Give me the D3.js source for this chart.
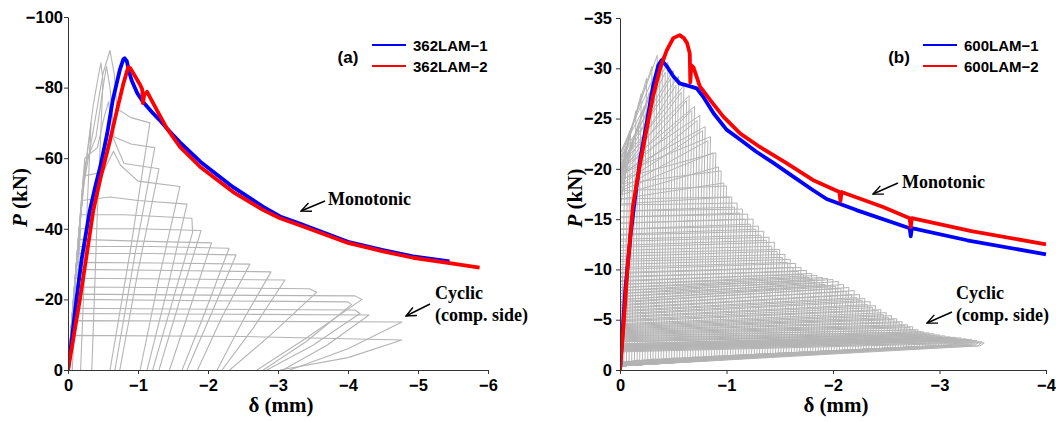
<!DOCTYPE html>
<html><head><meta charset="utf-8">
<script src="https://cdn.jsdelivr.net/npm/d3@7"></script>
<style>body{margin:0;background:#fff}svg{display:block}</style>
</head><body><svg id="c" width="1056" height="422"></svg>
<script>
// ---------------- DATA ----------------
// Panel (a): monotonic tests [delta (mm), P (kN)]
const mono362_1 = [[0,0],[-0.05,-8],[-0.12,-20],[-0.2,-32],[-0.31,-45],[-0.39,-52],[-0.46,-57.5],[-0.56,-67],[-0.64,-76.5],[-0.74,-85],[-0.79,-88],[-0.81,-88.3],[-0.84,-87.5],[-0.88,-84],[-0.91,-82],[-0.99,-78.4],[-1.07,-76],[-1.21,-72.8],[-1.31,-70.8],[-1.41,-68.5],[-1.6,-64.5],[-1.89,-59],[-2.36,-51.8],[-2.79,-46.2],[-3.03,-43.5],[-3.31,-41.5],[-4.0,-36.3],[-4.5,-34],[-4.93,-32.2],[-5.45,-30.8]];
const mono362_2 = [[0,0],[-0.06,-7],[-0.17,-20],[-0.27,-33],[-0.36,-45],[-0.46,-54],[-0.53,-59.5],[-0.6,-65],[-0.7,-73.6],[-0.79,-81],[-0.86,-85.8],[-0.89,-85.5],[-0.95,-83.5],[-1.03,-80.8],[-1.06,-79.5],[-1.07,-75.6],[-1.09,-78],[-1.13,-78.8],[-1.27,-73.6],[-1.41,-68.5],[-1.6,-63.2],[-1.89,-57.5],[-2.36,-50.4],[-2.79,-45.3],[-3.03,-43],[-3.31,-41],[-4.0,-36],[-4.5,-33.6],[-4.93,-31.8],[-5.45,-30.3],[-5.88,-29]];
// Panel (a): cyclic loops (compression side), each a list of [delta, P]
const cyclic362 = [
 [[0,0],[-0.1,-25],[-0.18,-40],[-0.12,-20],[-0.06,0]],
 [[0,0],[-0.15,-38],[-0.28,-62],[-0.33,-70],[-0.26,-40],[-0.18,0]],
 [[0,0],[-0.2,-50],[-0.36,-75],[-0.44,-84],[-0.47,-87],[-0.5,-82],[-0.42,-45],[-0.34,0]],
 [[0,0],[-0.22,-52],[-0.38,-70],[-0.5,-84],[-0.6,-90.5],[-0.66,-84],[-0.7,-74],[-0.9,-71.5],[-1.17,-70],[-0.9,-35],[-0.6,0]],
 [[0,0],[-0.24,-58],[-0.4,-66],[-0.5,-80],[-0.55,-86],[-0.6,-80],[-0.66,-66],[-0.9,-64],[-1.24,-63],[-0.95,-32],[-0.67,0]],
 [[0,0],[-0.24,-60],[-0.42,-63],[-0.52,-72],[-0.58,-76],[-0.64,-66],[-0.8,-58.5],[-1.3,-57],[-1.0,-28],[-0.74,0]],
 [[0,0],[-0.22,-55],[-0.5,-56],[-0.65,-62],[-0.75,-58],[-1.0,-53.5],[-1.6,-52],[-1.3,-26],[-1.03,0]],
 [[0,0],[-0.2,-48],[-0.6,-49],[-1.0,-48],[-1.7,-47],[-1.42,-23],[-1.13,0]],
 [[0,0],[-0.18,-44],[-0.8,-44],[-1.77,-43],[-1.78,-39],[-1.5,-20],[-1.21,0]],
 [[0,0],[-0.16,-40],[-1.0,-40],[-1.9,-39.5],[-1.6,-20],[-1.3,0]],
 [[0,0],[-0.15,-37],[-1.0,-36.5],[-2.05,-36],[-1.75,-18],[-1.45,0]],
 [[0,0],[-0.14,-35],[-1.2,-35],[-2.3,-34.5],[-1.97,-17],[-1.63,0]],
 [[0,0],[-0.13,-33],[-1.2,-33],[-2.4,-32.6],[-2.05,-16],[-1.7,0]],
 [[0,0],[-0.12,-30.5],[-1.3,-30.3],[-2.6,-30],[-2.2,-15],[-1.85,0]],
 [[0,0],[-0.11,-28.5],[-1.5,-28.2],[-2.9,-27.8],[-2.5,-14],[-2.13,0]],
 [[0,0],[-0.1,-26],[-1.5,-25.8],[-3.1,-25.5],[-2.65,-12],[-2.2,0]],
 [[0,0],[-0.09,-23.5],[-1.8,-23.3],[-3.45,-23],[-3.55,-22],[-2.9,-10],[-2.31,0]],
 [[0,0],[-0.09,-21.5],[-2,-21.2],[-4.1,-21],[-4.2,-20],[-3.4,-9],[-2.7,0]],
 [[0,0],[-0.08,-20],[-2,-19.6],[-4.0,-19.3],[-4.05,-18.5],[-3.4,-8],[-2.79,0]],
 [[0,0],[-0.07,-17.5],[-2,-17.2],[-4.1,-17],[-4.17,-16],[-3.5,-7],[-2.84,0]],
 [[0,0],[-0.06,-16],[-2.2,-15.8],[-4.3,-15.6],[-3.7,-7],[-3.07,0]],
 [[0,0],[-0.06,-14],[-2.5,-13.8],[-4.77,-13.6],[-4.0,-6],[-3.17,0]],
 [[0,0],[-0.04,-9.8],[-2.5,-9.5],[-4.77,-8.5],[-4.0,-3.5],[-3.03,0]]
];
// Panel (b): monotonic tests
const mono600_1 = [[0,0],[-0.02,-3],[-0.05,-8],[-0.1,-13.5],[-0.14,-17],[-0.19,-21],[-0.25,-24.5],[-0.31,-28.2],[-0.36,-30.3],[-0.39,-30.8],[-0.44,-30.2],[-0.5,-29.2],[-0.56,-28.5],[-0.66,-28.2],[-0.72,-28],[-0.78,-27.2],[-0.88,-25.5],[-1.0,-23.9],[-1.13,-22.9],[-1.28,-21.7],[-1.44,-20.6],[-1.63,-19.2],[-1.81,-17.9],[-1.94,-17.0],[-2.22,-15.9],[-2.72,-14.1],[-2.73,-13.3],[-2.74,-14.1],[-3.26,-12.9],[-4.0,-11.5]];
const mono600_2 = [[0,0],[-0.03,-4],[-0.07,-10],[-0.12,-16.2],[-0.19,-20.6],[-0.25,-23.9],[-0.31,-27.2],[-0.38,-30.1],[-0.44,-31.8],[-0.5,-33],[-0.56,-33.3],[-0.6,-33],[-0.63,-32.5],[-0.655,-31.5],[-0.66,-28.6],[-0.67,-30.3],[-0.69,-30.1],[-0.75,-28.2],[-0.85,-26.8],[-0.97,-25.2],[-1.13,-23.5],[-1.31,-22.2],[-1.56,-20.6],[-1.81,-18.9],[-2.06,-17.7],[-2.07,-16.8],[-2.08,-17.7],[-2.47,-16.2],[-2.72,-15.1],[-2.73,-14.2],[-2.74,-15.1],[-3.3,-13.8],[-4.0,-12.5]];
// Panel (b): cyclic loops, one row per amplitude:
// [amp1, P at amp1, P at delta=0, P after unloading, amp2, P at amp2, P at delta=0 (2nd cycle)]
const cyclic600 = [
 [-0.05,-22,-17,-0.8,-0.075,-21,-16],[-0.10,-24,-18,-0.9,-0.125,-23,-17],[-0.15,-25.8,-19,-0.9,-0.175,-24.6,-17.8],
 [-0.20,-27.5,-19.5,-1.0,-0.225,-26.2,-18.3],[-0.25,-29,-20,-1.0,-0.275,-27.6,-18.8],[-0.30,-30.2,-20.5,-1.0,-0.325,-28.8,-19.2],
 [-0.35,-31.3,-21,-1.1,-0.375,-29.8,-19.6],[-0.40,-31.2,-21.5,-1.1,-0.425,-29.6,-20],[-0.45,-30.6,-21.5,-1.1,-0.475,-29,-20],
 [-0.50,-29.8,-21,-1.1,-0.525,-28.3,-19.6],[-0.55,-29.2,-21,-1.2,-0.575,-27.6,-19.5],[-0.60,-28.3,-20.5,-1.2,-0.625,-26.8,-19.2],
 [-0.65,-27.3,-20.5,-1.2,-0.675,-25.8,-19],[-0.70,-26.2,-20,-1.2,-0.725,-24.8,-18.6],[-0.75,-25.3,-20,-1.3,-0.775,-23.8,-18.4],
 [-0.80,-24.2,-19.5,-1.3,-0.825,-22.8,-18],[-0.85,-23.2,-19.5,-1.3,-0.875,-21.6,-17.8],[-0.90,-21.6,-19,-1.3,-0.925,-20.2,-17.4],
 [-0.95,-19.8,-18.5,-1.4,-0.975,-18.6,-17],[-1.00,-18.3,-17.8,-1.4,-1.025,-17.2,-16.5],[-1.05,-17.2,-17,-1.4,-1.075,-16.2,-15.8],
 [-1.10,-16.6,-16.4,-1.4,-1.125,-15.6,-15.2],[-1.15,-16.0,-15.8,-1.5,-1.175,-15.0,-14.6],[-1.20,-15.5,-15.2,-1.5,-1.225,-14.5,-14.0],
 [-1.25,-15.0,-14.6,-1.5,-1.275,-14.0,-13.5],[-1.30,-14.3,-14,-1.5,-1.325,-13.4,-13.0],[-1.35,-13.8,-13.4,-1.6,-1.375,-12.9,-12.4],
 [-1.40,-13.2,-12.8,-1.6,-1.425,-12.3,-11.9],[-1.45,-12.7,-12.2,-1.6,-1.475,-11.8,-11.3],[-1.50,-12.0,-11.6,-1.6,-1.525,-11.2,-10.8],
 [-1.55,-11.5,-11,-1.7,-1.575,-10.7,-10.2],[-1.60,-11.0,-10.5,-1.7,-1.625,-10.2,-9.7],[-1.65,-10.6,-10,-1.7,-1.675,-9.8,-9.3],
 [-1.70,-10.2,-9.6,-1.7,-1.725,-9.5,-8.9],[-1.75,-9.9,-9.2,-1.8,-1.775,-9.2,-8.5],[-1.80,-9.6,-8.8,-1.8,-1.825,-8.9,-8.2],
 [-1.85,-9.4,-8.5,-1.8,-1.875,-8.7,-7.9],[-1.90,-9.2,-8.2,-1.8,-1.925,-8.5,-7.6],[-1.95,-9.1,-7.9,-1.9,-1.975,-8.4,-7.3],
 [-2.00,-9.0,-7.6,-1.9,-2.025,-8.3,-7.0],[-2.05,-8.8,-7.3,-1.9,-2.075,-8.1,-6.8],[-2.10,-8.5,-7.0,-1.9,-2.125,-7.8,-6.5],
 [-2.15,-8.2,-6.7,-2.0,-2.175,-7.5,-6.2],[-2.20,-7.9,-6.4,-2.0,-2.225,-7.2,-5.9],[-2.25,-7.5,-6.1,-2.0,-2.275,-6.9,-5.6],
 [-2.30,-7.1,-5.8,-2.0,-2.325,-6.5,-5.3],[-2.35,-6.8,-5.5,-2.1,-2.375,-6.2,-5.0],[-2.40,-6.4,-5.2,-2.1,-2.425,-5.9,-4.8],
 [-2.45,-6.0,-4.9,-2.1,-2.475,-5.5,-4.5],[-2.50,-5.7,-4.6,-2.1,-2.525,-5.2,-4.3],[-2.55,-5.4,-4.4,-2.2,-2.575,-5.0,-4.1],
 [-2.60,-5.1,-4.2,-2.2,-2.625,-4.7,-3.9],[-2.65,-4.8,-4.0,-2.2,-2.675,-4.4,-3.7],[-2.70,-4.5,-3.8,-2.2,-2.725,-4.2,-3.5],
 [-2.75,-4.3,-3.6,-2.3,-2.775,-4.0,-3.3],[-2.80,-4.0,-3.4,-2.3,-2.825,-3.8,-3.1],[-2.85,-3.8,-3.2,-2.3,-2.875,-3.6,-2.9],
 [-2.90,-3.7,-3.0,-2.3,-2.925,-3.5,-2.8],[-2.95,-3.6,-2.8,-2.4,-2.975,-3.4,-2.6],[-3.00,-3.5,-2.6,-2.4,-3.025,-3.3,-2.5],
 [-3.05,-3.4,-2.5,-2.4,-3.075,-3.2,-2.4],[-3.10,-3.3,-2.4,-2.4,-3.125,-3.15,-2.3],[-3.15,-3.25,-2.3,-2.5,-3.175,-3.1,-2.2],
 [-3.20,-3.2,-2.3,-2.5,-3.225,-3.0,-2.2],[-3.25,-3.1,-2.2,-2.5,-3.275,-2.95,-2.1],[-3.30,-3.05,-2.1,-2.5,-3.325,-2.9,-2.0],
 [-3.35,-2.95,-2.0,-2.5,-3.375,-2.8,-1.9],[-3.40,-2.8,-1.9,-2.4,-3.42,-2.7,-1.8]
];
// Tick labels
const xTicksA = [0,-1,-2,-3,-4,-5,-6];
const yTicksA = [0,-20,-40,-60,-80,-100];
const xTicksB = [0,-1,-2,-3,-4];
const yTicksB = [0,-5,-10,-15,-20,-25,-30,-35];
const seriesNamesA = ["362LAM−1","362LAM−2"];
const seriesNamesB = ["600LAM−1","600LAM−2"];
const seriesColors = ["#0000ff","#ff0000"];

// ---------------- DRAWING ----------------
const svg = d3.select('#c');
const defs = svg.append('defs');
defs.append('marker').attr('id','arr').attr('viewBox','0 -6 12 12').attr('refX',11).attr('refY',0)
  .attr('markerWidth',12).attr('markerHeight',12).attr('markerUnits','userSpaceOnUse').attr('orient','auto')
  .append('path').attr('d','M1,-4.5L11,0L1,4.5').attr('fill','none').attr('stroke','#000').attr('stroke-width',1.4);

const fmt = d => d === 0 ? "0" : "\u2212" + Math.abs(d);
function range(a, b, step){ const out=[]; const n=Math.round((b-a)/step); for(let i=0;i<=n;i++) out.push(+(a+i*step).toFixed(4)); return out; }

function panel(o){
  const x = d3.scaleLinear().domain(o.xDom).range(o.xR);
  const y = d3.scaleLinear().domain(o.yDom).range(o.yR);
  const line = d3.line().x(d=>x(d[0])).y(d=>y(d[1]));
  const cid = 'clip'+o.id;
  defs.append('clipPath').attr('id',cid).append('rect')
    .attr('x',o.xR[0]).attr('y',o.yR[1]-6).attr('width',o.xR[1]-o.xR[0]+3).attr('height',o.yR[0]-o.yR[1]+6);
  const plot = svg.append('g').attr('clip-path',`url(#${cid})`);
  plot.selectAll('path.cyc').data(o.loops).join('path').attr('class','cyc')
    .attr('d',line).attr('fill','none').attr('stroke','#b4b4b4').attr('stroke-width',o.gw).attr('stroke-linejoin','round');
  o.mono.forEach((s,i)=>plot.append('path').attr('d',line(s)).attr('fill','none')
    .attr('stroke',seriesColors[i]).attr('stroke-width',3.8).attr('stroke-linejoin','round'));

  // axes
  const font = g => g.selectAll('text').attr('font-family','"Liberation Sans", Arial, sans-serif')
      .attr('font-weight','bold').attr('font-size',16.5).attr('fill','#000');
  const gy = svg.append('g').attr('transform',`translate(${o.xR[0]},0)`);
  gy.call(d3.axisLeft(y).tickValues(o.yMinor).tickSize(-3).tickSizeOuter(0).tickFormat(''));
  gy.call(d3.axisLeft(y).tickValues(o.yTicks).tickSize(4).tickSizeOuter(0).tickPadding(o.yPad).tickFormat(fmt)).call(font);
  const gx = svg.append('g').attr('transform',`translate(0,${o.yR[0]})`);
  gx.call(d3.axisBottom(x).tickValues(o.xMinor).tickSize(-3).tickSizeOuter(0).tickFormat(''));
  gx.call(d3.axisBottom(x).tickValues(o.xTicks).tickSize(4).tickSizeOuter(0).tickPadding(5).tickFormat(fmt)).call(font);
  svg.selectAll('.domain').attr('stroke','#333');
  svg.selectAll('.tick line').attr('stroke','#333');

  // axis titles
  const ty = svg.append('text').attr('transform',`translate(${o.yTitleX},${(o.yR[0]+o.yR[1])/2+4}) rotate(-90)`)
    .attr('text-anchor','middle').attr('font-family','"Liberation Serif","Times New Roman",serif')
    .attr('font-weight','bold').attr('font-size',21);
  ty.append('tspan').attr('font-style','italic').text('P');
  ty.append('tspan').text(' (kN)');
  svg.append('text').attr('x',(o.xR[0]+o.xR[1])/2+3).attr('y',412).attr('text-anchor','middle')
    .attr('font-family','"Liberation Serif","Times New Roman",serif').attr('font-weight','bold').attr('font-size',21)
    .text('\u03b4 (mm)');

  // legend
  const sans = sel => sel.attr('font-family','"Liberation Sans", Arial, sans-serif').attr('font-weight','bold');
  svg.append('text').attr('x',o.tag[0]).attr('y',o.tag[1]).attr('text-anchor','middle').attr('font-size',17).call(sans).text(o.tagText);
  o.names.forEach((n,i)=>{
    const yy = o.leg[1] + i*21;
    svg.append('line').attr('x1',o.leg[0]).attr('x2',o.leg[0]+34).attr('y1',yy).attr('y2',yy)
      .attr('stroke',seriesColors[i]).attr('stroke-width',1.8);
    svg.append('text').attr('x',o.leg[0]+41).attr('y',yy+5.5).attr('font-size',15).call(sans).text(n);
  });

  // annotations
  const serif = sel => sel.attr('font-family','"Liberation Serif","Times New Roman",serif').attr('font-weight','bold').attr('font-size',18);
  svg.append('text').attr('x',o.mono_t[0]).attr('y',o.mono_t[1]).call(serif).text('Monotonic');
  svg.append('line').attr('x1',o.mono_a[0]).attr('y1',o.mono_a[1]).attr('x2',o.mono_a[2]).attr('y2',o.mono_a[3])
    .attr('stroke','#000').attr('stroke-width',1.4).attr('marker-end','url(#arr)');
  svg.append('text').attr('x',o.cyc_t[0]).attr('y',o.cyc_t[1]).call(serif).text('Cyclic');
  svg.append('text').attr('x',o.cyc_t[0]).attr('y',o.cyc_t[1]+22).call(serif).text('(comp. side)');
  svg.append('line').attr('x1',o.cyc_a[0]).attr('y1',o.cyc_a[1]).attr('x2',o.cyc_a[2]).attr('y2',o.cyc_a[3])
    .attr('stroke','#000').attr('stroke-width',1.4).attr('marker-end','url(#arr)');
}

// build panel (b) loop polylines from the table rows (two cycles per amplitude)
const loopsB = [];
cyclic600.forEach(r => {
  loopsB.push([[0,r[2]],[r[0],r[1]],[r[0]+0.04,r[3]],[0,-0.4]]);
  loopsB.push([[0,r[6]],[r[4],r[5]],[r[4]+0.04,r[3]],[0,-0.7]]);
});

panel({id:'a', xDom:[0,-6], xR:[68,488], yDom:[0,-100], yR:[370,17], gw:1.1,
  xTicks:xTicksA, yTicks:yTicksA, xMinor:range(-6,0,0.2), yMinor:range(-100,0,4), yPad:1,
  loops:cyclic362, mono:[mono362_1, mono362_2], yTitleX:27,
  tag:[348,63], tagText:'(a)', leg:[372,45], names:seriesNamesA,
  mono_t:[328,205], mono_a:[325,201,301,211], cyc_t:[435,299], cyc_a:[430,304,406,316]});

panel({id:'b', xDom:[0,-4], xR:[620,1046], yDom:[0,-35], yR:[370,18], gw:1,
  xTicks:xTicksB, yTicks:yTicksB, xMinor:range(-4,0,0.1), yMinor:range(-35,0,1), yPad:4,
  loops:loopsB, mono:[mono600_1, mono600_2], yTitleX:582,
  tag:[899,63], tagText:'(b)', leg:[923,45], names:seriesNamesB,
  mono_t:[902,188], mono_a:[898,183,873,194], cyc_t:[956,299], cyc_a:[952,312,927,323]});
</script></body></html>
